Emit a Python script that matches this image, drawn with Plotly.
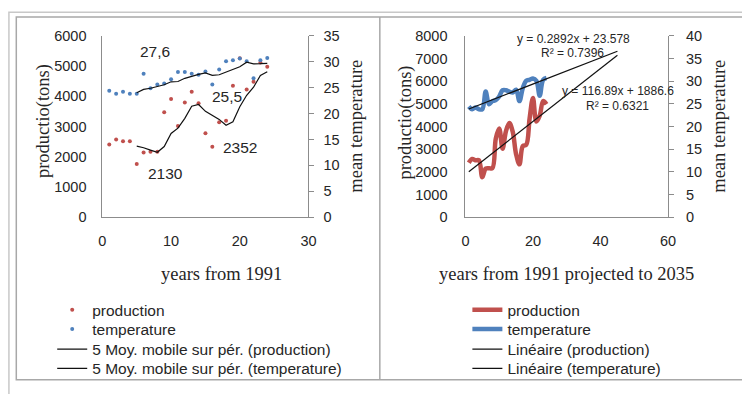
import plotly.graph_objects as go
import pandas as pd

W, H = 742, 394

years = list(range(1, 25))
production = [2400, 2570, 2510, 2510, 1760, 2140, 2160, 2160, 3470, 3910, 3020, 3790,
              4150, 3770, 2780, 2330, 3140, 3190, 4350, 5260, 4220, 4480, 5120, 4980]
temperature = [24.4, 23.8, 24.2, 23.8, 23.8, 27.7, 24.9, 25.6, 25.8, 26.6, 28.0, 28.0,
               27.7, 27.5, 28.1, 25.6, 28.5, 30.1, 30.3, 30.6, 30.1, 26.8, 30.3, 30.7]

ma_period = 5
trend_x = [1, 45]
prod_slope, prod_icpt = 116.89, 1886.6
temp_slope, temp_icpt = 0.2892, 23.578

left_labels = ["27,6", "25,5", "2352", "2130"]
eq_labels = ["y = 0.2892x + 23.578", "R² = 0.7396", "y = 116.89x + 1886.6", "R² = 0.6321"]

RED = "#C0504D"
BLUE = "#4F81BD"
AX = "#8c8c8c"
TXT = "#262626"
SANS = "Liberation Sans"
SERIF = "Liberation Serif"

ma_prod = pd.Series(production).rolling(ma_period).mean()
ma_temp = pd.Series(temperature).rolling(ma_period).mean()
ma_x = years[ma_period - 1:]
ma_prod = list(ma_prod[ma_period - 1:])
ma_temp = list(ma_temp[ma_period - 1:])
trend_prod = [prod_slope * x + prod_icpt for x in trend_x]
trend_temp = [temp_slope * x + temp_icpt for x in trend_x]


def px(x):
    return x / W


def py(y):
    return 1 - y / H


fig = go.Figure()

# left chart
fig.add_trace(go.Scatter(x=years, y=production, mode="markers", name="production",
                         marker=dict(color=RED, size=4), xaxis="x", yaxis="y", legend="legend"))
fig.add_trace(go.Scatter(x=years, y=temperature, mode="markers", name="temperature",
                         marker=dict(color=BLUE, size=4), xaxis="x", yaxis="y2", legend="legend2"))
fig.add_trace(go.Scatter(x=ma_x, y=ma_prod, mode="lines", name="5 Moy. mobile sur pér. (production)",
                         line=dict(color="#111111", width=1.2), xaxis="x", yaxis="y", legend="legend3"))
fig.add_trace(go.Scatter(x=ma_x, y=ma_temp, mode="lines", name="5 Moy. mobile sur pér. (temperature)",
                         line=dict(color="#111111", width=1.2), xaxis="x", yaxis="y2", legend="legend4"))

# right chart
fig.add_trace(go.Scatter(x=years, y=production, mode="lines", name="production",
                         line=dict(color=RED, width=4.5, shape="spline"), xaxis="x2", yaxis="y3", legend="legend5"))
fig.add_trace(go.Scatter(x=years, y=temperature, mode="lines", name="temperature",
                         line=dict(color=BLUE, width=4.5, shape="spline"), xaxis="x2", yaxis="y4", legend="legend6"))
fig.add_trace(go.Scatter(x=trend_x, y=trend_prod, mode="lines", name="Linéaire (production)",
                         line=dict(color="#111111", width=1.2), xaxis="x2", yaxis="y3", legend="legend7"))
fig.add_trace(go.Scatter(x=trend_x, y=trend_temp, mode="lines", name="Linéaire (temperature)",
                         line=dict(color="#111111", width=1.2), xaxis="x2", yaxis="y4", legend="legend8"))

tickfont = dict(family=SANS, size=14.5, color=TXT)
ydom = [py(218), py(29)]

common_x = dict(showline=True, linecolor=AX, linewidth=1, showgrid=False, zeroline=False,
                ticks="", tickfont=tickfont, ticklabelstandoff=10)
common_y = dict(showline=True, linecolor=AX, linewidth=1, showgrid=False, zeroline=False,
                tickfont=tickfont)

fig.update_layout(
    width=W, height=H, margin=dict(l=0, r=0, t=0, b=0),
    paper_bgcolor="white", plot_bgcolor="white",
    xaxis=dict(domain=[px(100), px(309.5)], range=[0, 30], dtick=10, anchor="y", **common_x),
    yaxis=dict(domain=ydom, range=[0, 6000], dtick=1000, anchor="x", ticks="",
               ticklabelstandoff=12, **common_y),
    yaxis2=dict(range=[0, 35], dtick=5, overlaying="y", side="right", anchor="x",
                ticks="outside", ticklen=5, tickcolor=AX, ticklabelstandoff=6, **common_y),
    xaxis2=dict(domain=[px(469), px(675)], range=[0, 60], dtick=20, anchor="y3", **common_x),
    yaxis3=dict(domain=ydom, range=[0, 8000], dtick=1000, anchor="x2", ticks="",
                ticklabelstandoff=14, **common_y),
    yaxis4=dict(range=[0, 40], dtick=5, overlaying="y3", side="right", anchor="x2",
                ticks="outside", ticklen=5, tickcolor=AX, ticklabelstandoff=9, **common_y),
    showlegend=True,
)

legend_rows = [315, 335, 356, 376]
legend_font = dict(family=SANS, size=15.5, color=TXT)
leg = {}
for i in range(8):
    key = "legend" if i == 0 else f"legend{i + 1}"
    xstart = 49 if i < 4 else 471
    leg[key] = dict(x=px(xstart), y=py(legend_rows[i % 4]), xanchor="left", yanchor="middle",
                    bgcolor="rgba(0,0,0,0)", font=legend_font, itemwidth=30)
fig.update_layout(**leg)

ann = []


def add_text(text, x, y, size, family=SANS, angle=0, color=TXT):
    ann.append(dict(text=text, x=px(x), y=py(y), xref="paper", yref="paper",
                    xanchor="center", yanchor="middle", showarrow=False, textangle=angle,
                    font=dict(family=family, size=size, color=color)))


# axis titles
add_text("productio(tons)", 40, 117.5, 18.5, SERIF, -90)
add_text("mean temperature", 358, 123.5, 18.5, SERIF, -90)
add_text("years from 1991", 221, 277, 18.5, SERIF)
add_text("productio(tons)", 408, 119, 18.5, SERIF, -90)
add_text("mean temperature", 727, 123.5, 18.5, SERIF, -90)
add_text("years from 1991 projected to 2035", 572, 277, 18.5, SERIF)

# data labels (left chart)
for t, (x, y) in zip(left_labels, [(153, 45), (227, 92), (240, 145), (164, 173)]):
    add_text(t, x, y, 15.5)

# trendline equations (right chart)
for t, (x, y) in zip(eq_labels, [(579, 32), (578, 47), (624, 86), (624, 102)]):
    add_text(t, x, y, 12)

fig.update_layout(annotations=ann)

# frames
shapes = [
    dict(type="rect", xref="paper", yref="paper", x0=px(5), x1=px(760), y0=py(4.5), y1=py(420),
         line=dict(color="#c8c8c8", width=1.5)),
    dict(type="rect", xref="paper", yref="paper", x0=px(12.5), x1=px(760), y0=py(9.5), y1=py(387.5),
         line=dict(color="#a8a8a8", width=1.5)),
    dict(type="line", xref="paper", yref="paper", x0=px(382), x1=px(382), y0=py(9.5), y1=py(387.5),
         line=dict(color="#a8a8a8", width=1.5)),
]
fig.update_layout(shapes=shapes)

fig.write_html("out.html")
